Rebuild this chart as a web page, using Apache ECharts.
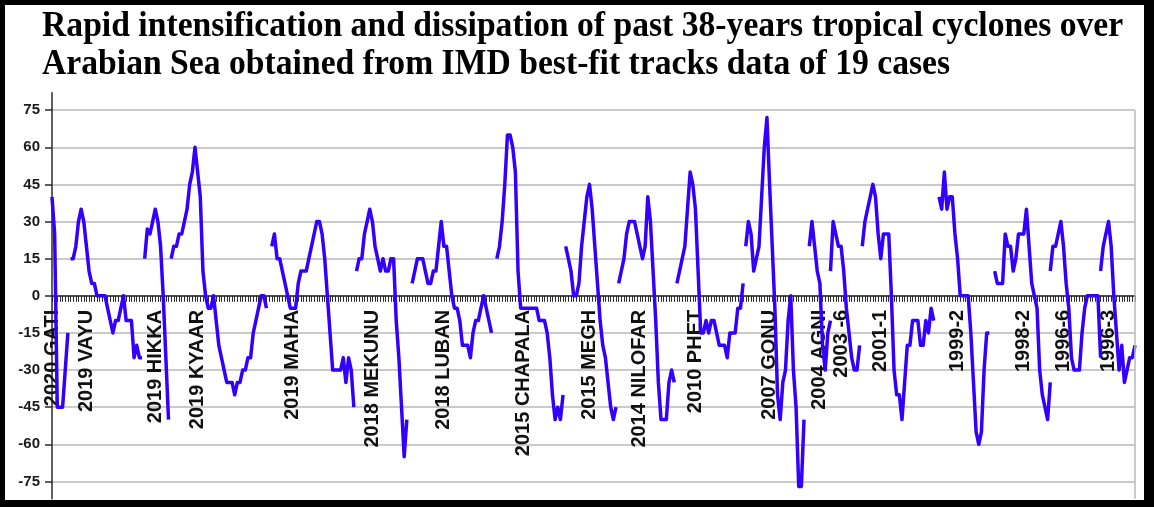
<!DOCTYPE html>
<html>
<head>
<meta charset="utf-8">
<script src="https://cdn.jsdelivr.net/npm/echarts@6/dist/echarts.min.js"></script>
<style>
html,body{margin:0;padding:0;background:#fff;}
#chart{width:1154px;height:507px;}
</style>
</head>
<body>
<div id="chart"></div>
<script>
// ---- data ----
const categoryCount = 410;
const labelNames = ['2020 GATI','2019 VAYU','2019 HIKKA','2019 KYAAR','2019 MAHA','2018 MEKUNU','2018 LUBAN','2015 CHAPALA','2015 MEGH','2014 NILOFAR','2010 PHET','2007 GONU','2004 AGNI','2003 -6','2001-1','1999-2','1998-2','1996-6','1996-3'];
const labelIdx = [0,13,39,55,91,121,148,178,203,222,243,271,290,298,313,342,367,382,399];
const yTicks = [-75,-60,-45,-30,-15,0,15,30,45,60,75];

const gati    = [40,25,-45,-45,-45,-30,-15];
const vayu    = [15,15,20,30,35,30,20,10,5,5,0,0,0,0,-5,-10,-15,-10,-10,-5,0,-10,-10,-10,-25,-20,-25,-25];
const hikka   = [15,27,25,30,35,30,20,0,-25,-50];
const kyaar   = [15,20,20,25,25,30,35,45,50,60,50,40,10,0,-5,-5,0,-10,-20,-25,-30,-35,-35,-35,-40,-35,-35,-30,-30,-25,-25,-15,-10,-5,0,0,-5];
const maha    = [20,25,15,15,10,5,0,-5,-5,-5,5,10,10,10,15,20,25,30,30,25,15,0,-15,-30,-30,-30,-30,-25,-35,-25,-30,-45];
const mekunu  = [10,15,15,25,30,35,30,20,15,10,15,10,10,15,15,-10,-25,-45,-65,-50];
const luban   = [5,10,15,15,15,10,5,5,10,10,20,30,20,20,10,0,-5,-5,-10,-20,-20,-20,-25,-15,-10,-10,-5,0,-5,-10,-15];
const chapala = [15,20,30,45,65,65,60,50,10,-5,-5,-5,-5,-5,-5,-5,-10,-10,-10,-15,-25,-40,-50,-45,-50,-40];
const megh    = [20,15,10,0,0,5,20,30,40,45,35,20,5,-10,-20,-25,-35,-45,-50,-45];
const nilofar = [5,10,15,25,30,30,30,25,20,15,20,40,30,10,-10,-35,-50,-50,-50,-35,-30,-35];
const phet    = [5,10,15,20,35,50,45,35,10,-15,-15,-10,-15,-10,-10,-15,-20,-20,-20,-25,-15,-15,-15,-5,-5,5];
const gonu    = [20,30,25,10,15,20,40,60,72,45,20,-5,-40,-50,-35,-30,-10,0,-30,-45,-77,-77,-50];
const agni    = [20,30,20,10,5,-20,-30,-15,-10];
const c2003_6 = [10,30,25,20,20,10,-5,-15,-25,-30,-30,-20];
const c2001_1 = [20,30,35,40,45,40,25,15,25,25,25,0,-30,-40,-40,-50,-35,-20,-20,-10,-10,-10,-20,-20,-10,-15,-5,-10];
const c1999_2 = [40,35,50,35,40,40,25,15,0,0,0,0,-15,-35,-55,-60,-55,-30,-15,-15];
const c1998_2 = [10,5,5,5,25,20,20,10,15,25,25,25,35,20,5,0,-5,-30,-40,-45,-50,-35];
const c1996_6 = [10,20,20,25,30,20,5,-5,-25,-30,-30,-30,-15,-5,0,0,0,0,0,-25];
const c1996_3 = [10,20,25,30,20,0,-15,-30,-20,-35,-30,-25,-25,-20];

const segments = [gati,vayu,hikka,kyaar,maha,mekunu,luban,chapala,megh,nilofar,phet,gonu,agni,c2003_6,c2001_1,c1999_2,c1998_2,c1996_6,c1996_3];
const segmentStarts = [0,7,35,45,83,115,136,168,194,214,236,262,286,294,306,335,356,377,396];

const titleText = 'Rapid intensification and dissipation of past 38-years tropical cyclones over\nArabian Sea obtained from IMD best-fit tracks data of 19 cases';

// ---- build ----
const categories = new Array(categoryCount).fill('');
labelIdx.forEach((k, i) => { categories[k] = labelNames[i]; });

const yMin = -82, yMax = 82;
const gridTop = 92.8, gridBottom = 8.2, chartH = 507;
// distance between the grid bottom edge and the zero line, for the label-only axis
const plotH = chartH - gridTop - gridBottom;
const zeroOffset = -plotH * (0 - yMin) / (yMax - yMin);

const lineColor = '#3300ff';
const series = segments.map((vals, s) => {
  const data = new Array(categoryCount).fill(null);
  vals.forEach((v, j) => { data[segmentStarts[s] + j] = v; });
  const o = {
    type: 'line', data: data, xAxisIndex: 0, showSymbol: false, connectNulls: false,
    lineStyle: { color: lineColor, width: 3.5, join: 'round' },
    itemStyle: { color: lineColor }, animation: false, z: 3
  };
  if (s === 0) {
    o.markLine = {
      silent: true, symbol: 'none', animation: false,
      label: { show: false },
      lineStyle: { color: '#b8b8b8', width: 1.5, type: 'solid' },
      data: [[{ coord: [categoryCount - 1, 75] }, { coord: [categoryCount - 1, yMin] }]]
    };
  }
  return o;
});

const chart = echarts.init(document.getElementById('chart'), null, { renderer: 'canvas' });
chart.setOption({
  animation: false,
  backgroundColor: '#ffffff',
  grid: { left: 52, right: 19, top: gridTop, bottom: gridBottom, containLabel: false, outerBoundsMode: 'none' },
  xAxis: [{
    type: 'category', data: categories, boundaryGap: false,
    axisLine: { onZero: true, lineStyle: { color: '#2a2a2a', width: 1.5 } },
    axisTick: { show: true, interval: 0, length: 6, lineStyle: { color: '#2a2a2a', width: 1 } },
    axisLabel: { show: false },
    splitLine: { show: false }
  }, {
    type: 'category', data: categories, boundaryGap: false, position: 'bottom', offset: zeroOffset,
    axisLine: { show: false, onZero: false }, axisTick: { show: false },
    axisLabel: { interval: 0, rotate: 90, margin: 14, fontFamily: 'Liberation Sans', fontWeight: 'bold', fontSize: 20, color: '#111' },
    splitLine: { show: false }
  }],
  yAxis: {
    type: 'value', min: yMin, max: yMax,
    axisLine: { show: true, onZero: false, lineStyle: { color: '#2a2a2a', width: 1.5 } },
    axisTick: { show: true, length: 7, customValues: yTicks, lineStyle: { color: '#2a2a2a', width: 1.5 } },
    axisLabel: { customValues: yTicks, margin: 12, fontFamily: 'Liberation Sans', fontWeight: 'bold', fontSize: 15, color: '#1a1a1a' },
    splitLine: { show: true, lineStyle: { color: '#b8b8b8', width: 1.5 } }
  },
  series: series,
  graphic: [
    { type: 'text', x: 42, y: 8, scaleX: 0.935, z: 50,
      style: { text: titleText, font: 'bold 36px "Liberation Serif"', lineHeight: 38, fill: '#000', textVerticalAlign: 'top' } },
    { type: 'rect', shape: { x: 0, y: 0, width: 1154, height: 5 }, style: { fill: '#000' }, z: 100 },
    { type: 'rect', shape: { x: 0, y: 0, width: 5, height: 507 }, style: { fill: '#000' }, z: 100 },
    { type: 'rect', shape: { x: 1144, y: 0, width: 10, height: 507 }, style: { fill: '#000' }, z: 100 },
    { type: 'rect', shape: { x: 0, y: 500, width: 1154, height: 7 }, style: { fill: '#000' }, z: 100 }
  ]
});
</script>
</body>
</html>
